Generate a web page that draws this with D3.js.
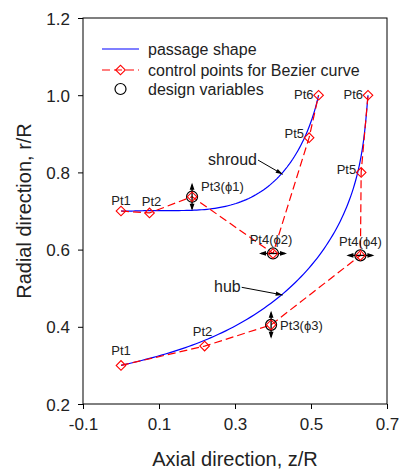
<!DOCTYPE html>
<html>
<head>
<meta charset="utf-8">
<script src="https://cdn.jsdelivr.net/npm/d3@7"></script>
<style>
  body { margin: 0; background: #fff; }
  text { font-family: "Liberation Sans", Arial, sans-serif; fill: #222; }
</style>
</head>
<body>
<div id="chart"></div>
<script>
// control points (z/R, r/R)
const shroudPts = [[0.0, 0.70], [0.075, 0.695], [0.187, 0.737], [0.40, 0.59], [0.495, 0.89], [0.52, 1.0]]
const hubPts = [[0.0, 0.30], [0.22, 0.35], [0.395, 0.405], [0.63, 0.585], [0.632, 0.80], [0.65, 1.0]]
const shroudLabels = ["Pt1", "Pt2", "Pt3(\u03D51)", "Pt4(\u03D52)", "Pt5", "Pt6"]
const hubLabels = ["Pt1", "Pt2", "Pt3(\u03D53)", "Pt4(\u03D54)", "Pt5", "Pt6"]
// design variables: [curve, point index, direction]
const designVars = [["shroud", 2, "v"], ["shroud", 3, "h"], ["hub", 2, "v"], ["hub", 3, "h"]]
const xTicks = [-0.1, 0.1, 0.3, 0.5, 0.7]
const yTicks = [0.2, 0.4, 0.6, 0.8, 1.0, 1.2]
const legendItems = ["passage shape", "control points for Bezier curve", "design variables"]

const W = 401, H = 473
const margin = { top: 18, left: 83, right: 14, bottom: 69 }
const width = W - margin.left - margin.right
const height = H - margin.top - margin.bottom

const svg = d3.select("#chart").append("svg")
    .attr("width", W).attr("height", H)
const g = svg.append("g").attr("transform", `translate(${margin.left},${margin.top})`)

const x = d3.scaleLinear().domain([-0.1, 0.7]).range([0, width])
const y = d3.scaleLinear().domain([0.2, 1.2]).range([height, 0])

// axes
const fmt = d => d.toFixed(1)
const xAxis = g.append("g").attr("transform", `translate(0,${height})`)
    .call(d3.axisBottom(x).tickValues(xTicks).tickFormat(fmt).tickSize(5).tickSizeOuter(0))
const yAxis = g.append("g")
    .call(d3.axisLeft(y).tickValues(yTicks).tickFormat(fmt).tickSize(5).tickSizeOuter(0))
;[xAxis, yAxis].forEach(a => {
    a.select(".domain").remove()
    a.selectAll("line").attr("stroke", "#000")
    a.selectAll("text").attr("font-size", 17).attr("font-family", "Liberation Sans, Arial, sans-serif").attr("fill", "#222")
})
xAxis.selectAll("text").attr("dy", "1.05em")
yAxis.selectAll("text").attr("x", -13).attr("dy", "0.36em")

g.append("rect").attr("width", width).attr("height", height)
    .attr("fill", "none").attr("stroke", "#000").attr("stroke-width", 1)

svg.append("text").attr("x", margin.left + width / 2).attr("y", 466)
    .attr("text-anchor", "middle").attr("font-size", 20).text("Axial direction, z/R")
svg.append("text").attr("transform", `translate(31,${margin.top + height / 2}) rotate(-90)`)
    .attr("text-anchor", "middle").attr("font-size", 20).text("Radial direction, r/R")

// bezier curve from control points (de Casteljau)
function bezier(pts, t) {
    let p = pts.map(d => d.slice())
    while (p.length > 1) {
        p = p.slice(1).map((d, i) => [p[i][0] + (d[0] - p[i][0]) * t, p[i][1] + (d[1] - p[i][1]) * t])
    }
    return p[0]
}
const line = d3.line().x(d => x(d[0])).y(d => y(d[1]))
const curves = { shroud: shroudPts, hub: hubPts }

Object.values(curves).forEach(pts => {
    const curve = d3.range(0, 1.0001, 0.01).map(t => bezier(pts, t))
    g.append("path").attr("d", line(curve)).attr("fill", "none")
        .attr("stroke", "#0000ff").attr("stroke-width", 1.2)
    g.append("path").attr("d", line(pts)).attr("fill", "none")
        .attr("stroke", "#ff0000").attr("stroke-width", 1.2).attr("stroke-dasharray", "8,4")
})

const diamond = d3.symbol(d3.symbolSquare, 46)
function drawDiamond(sel) {
    sel.append("path").attr("d", diamond).attr("fill", "none")
        .attr("stroke", "#ff0000").attr("stroke-width", 1.1)
}

// design variable arrows + circles
function dblArrow(cx, cy, dir) {
    const L = 14, hl = 7, hw = 2.4
    const a = g.append("g").attr("transform", `translate(${cx},${cy}) rotate(${dir === "v" ? 90 : 0})`)
    a.append("line").attr("x1", -L + 2).attr("x2", L - 2).attr("stroke", "#000").attr("stroke-width", 1.3)
    a.append("path").attr("d", `M${L},0L${L - hl},${-hw}L${L - hl},${hw}Z M${-L},0L${-L + hl},${-hw}L${-L + hl},${hw}Z`)
        .attr("fill", "#000")
}
designVars.forEach(([c, i, dir]) => {
    const p = curves[c][i]
    dblArrow(x(p[0]), y(p[1]), dir)
    g.append("circle").attr("cx", x(p[0])).attr("cy", y(p[1])).attr("r", 5.5)
        .attr("fill", "none").attr("stroke", "#000").attr("stroke-width", 1.2)
})

Object.values(curves).forEach(pts => {
    g.selectAll(null).data(pts).enter().append("g")
        .attr("transform", d => `translate(${x(d[0])},${y(d[1])}) rotate(45)`)
        .call(drawDiamond)
})

// point labels: [text, anchor, dx, dy]
const labelStyle = {
    shroud: [["middle", 0, -6], ["middle", 2, -7], ["start", 9, -6], ["middle", -2, -9], ["end", -5, 0], ["end", -5, 4]],
    hub: [["middle", 0, -10], ["middle", -2, -10], ["start", 9, 5], ["middle", 0, -9], ["end", -5, 2], ["end", -5, 4]]
}
;[["shroud", shroudLabels], ["hub", hubLabels]].forEach(([c, labs]) => {
    labs.forEach((t, i) => {
        const p = curves[c][i], s = labelStyle[c][i]
        g.append("text").attr("x", x(p[0]) + s[1]).attr("y", y(p[1]) + s[2])
            .attr("text-anchor", s[0]).attr("font-size", 13).text(t)
    })
})

// annotations: shroud / hub with arrows pointing to the passage curve
const notes = [
    { text: "shroud", from: [0.3605, 0.832], to: [0.4255, 0.795], ty: 5 },
    { text: "hub", from: [0.3176, 0.5023], to: [0.4255, 0.4824], ty: 5 }
]
notes.forEach(n => {
    const x1 = x(n.from[0]), y1 = y(n.from[1]), x2 = x(n.to[0]), y2 = y(n.to[1])
    g.append("text").attr("x", x1 - 1).attr("y", y1 + n.ty).attr("text-anchor", "end")
        .attr("font-size", 16).text(n.text)
    const ang = Math.atan2(y2 - y1, x2 - x1) * 180 / Math.PI
    g.append("line").attr("x1", x1).attr("y1", y1).attr("x2", x2).attr("y2", y2)
        .attr("stroke", "#000").attr("stroke-width", 1)
    g.append("path").attr("d", "M0,0L-7,-2.2L-7,2.2Z")
        .attr("transform", `translate(${x2},${y2}) rotate(${ang})`).attr("fill", "#000")
})

// legend
const lg = svg.append("g").attr("transform", "translate(102,49)")
const rows = [0, 21, 40]
lg.append("line").attr("x1", 0).attr("x2", 37).attr("y1", rows[0]).attr("y2", rows[0])
    .attr("stroke", "#0000ff").attr("stroke-width", 1.2)
lg.append("line").attr("x1", 0).attr("x2", 37).attr("y1", rows[1]).attr("y2", rows[1])
    .attr("stroke", "#ff0000").attr("stroke-width", 1.2).attr("stroke-dasharray", "8,4")
lg.append("g").attr("transform", `translate(18.5,${rows[1]}) rotate(45)`).call(drawDiamond)
lg.append("circle").attr("cx", 18.5).attr("cy", rows[2]).attr("r", 5.5)
    .attr("fill", "none").attr("stroke", "#000").attr("stroke-width", 1.2)
legendItems.forEach((t, i) => {
    lg.append("text").attr("x", 46).attr("y", rows[i] + 5.5).attr("font-size", 16).text(t)
})
</script>
</body>
</html>
